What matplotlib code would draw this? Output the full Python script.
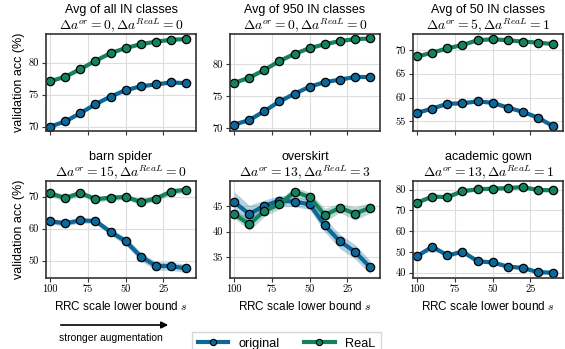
import numpy as np
import matplotlib
matplotlib.use("Agg")
from matplotlib import pyplot as plt

# RRC scale lower bound s (x axis, inverted)
scales = [100, 90, 80, 70, 60, 50, 40, 30, 20, 10]

titles = ["Avg of all IN classes", "Avg of 950 IN classes", "Avg of 50 IN classes",
          "barn spider", "overskirt", "academic gown"]
deltas = [(0, 0), (0, 0), (5, 1), (15, 0), (13, 3), (13, 1)]

orig_vals = [
    [70.0, 70.8, 72.1, 73.5, 74.7, 75.7, 76.3, 76.6, 76.9, 76.8],
    [70.6, 71.3, 72.7, 74.2, 75.4, 76.5, 77.2, 77.6, 78.0, 78.0],
    [56.8, 57.7, 58.7, 58.8, 59.2, 58.9, 57.9, 57.0, 55.8, 54.0],
    [62.3, 61.7, 62.6, 62.4, 59.0, 56.1, 51.3, 48.4, 48.3, 47.6],
    [45.7, 43.4, 45.0, 46.0, 45.8, 45.3, 41.2, 38.1, 36.1, 33.1],
    [48.0, 52.5, 48.3, 50.1, 45.5, 44.9, 42.9, 42.3, 40.2, 40.0],
]
real_vals = [
    [77.1, 77.8, 79.0, 80.3, 81.5, 82.3, 82.9, 83.3, 83.6, 83.7],
    [77.1, 77.9, 79.1, 80.5, 81.6, 82.5, 83.1, 83.6, 83.9, 84.0],
    [68.6, 69.4, 70.3, 71.0, 72.0, 72.2, 72.0, 71.7, 71.5, 71.2],
    [71.0, 69.6, 71.2, 69.2, 69.7, 69.9, 68.4, 69.4, 71.6, 72.2],
    [43.4, 41.4, 44.0, 45.3, 47.7, 46.7, 43.2, 44.6, 43.5, 44.6],
    [73.8, 76.7, 76.4, 79.3, 80.2, 80.5, 80.8, 81.3, 79.8, 79.8],
]
# spread (std) across runs
orig_std = [
    [0.15] * 10,
    [0.15] * 10,
    [0.25] * 10,
    [0.9, 0.9, 0.8, 0.8, 1.0, 1.2, 1.4, 1.3, 1.3, 1.3],
    [2.0, 1.7, 1.1, 1.0, 1.0, 1.0, 1.3, 1.4, 1.4, 1.3],
    [0.8, 0.8, 0.8, 0.8, 0.8, 0.8, 0.8, 0.8, 0.8, 0.8],
]
real_std = [
    [0.15] * 10,
    [0.15] * 10,
    [0.2] * 10,
    [1.0, 0.9, 0.9, 0.9, 0.8, 0.8, 0.9, 0.9, 0.9, 0.9],
    [0.8, 1.2, 1.1, 0.9, 0.9, 0.9, 1.3, 0.9, 1.3, 1.0],
    [0.8, 0.8, 0.8, 0.8, 0.8, 0.8, 0.8, 0.8, 0.8, 0.8],
]

ylims = [(69.3, 84.5), (69.6, 84.7), (53.0, 73.3), (44.6, 74.9), (31.0, 49.8), (37.4, 84.2)]
yticks = [[70, 75, 80], [70, 75, 80], [55, 60, 65, 70], [50, 60, 70], [35, 40, 45],
          [40, 50, 60, 70, 80]]

blue = "#0b6898"
green = "#148260"
sans = "Liberation Sans"

plt.rcParams["mathtext.fontset"] = "cm"
fig = plt.figure(figsize=(5.65, 3.49), dpi=100)
W, H = 565.0, 349.0

lefts = [46, 230, 413]
tops = [34, 181]
aw, ah = 150, 97

for i in range(6):
    r, c = divmod(i, 3)
    ax = fig.add_axes([lefts[c] / W, 1 - (tops[r] + ah) / H, aw / W, ah / H])
    x = np.array(scales)
    for vals, std, col in [(orig_vals[i], orig_std[i], blue), (real_vals[i], real_std[i], green)]:
        v = np.array(vals)
        s = np.array(std)
        ax.fill_between(x, v - s, v + s, color=col, alpha=0.3, lw=0)
        ax.plot(x, v, color=col, lw=3, marker="o", ms=6, mfc=col, mec="black", mew=0.9)
    ax.set_xlim(102.8, 3.4)
    ax.set_ylim(*ylims[i])
    ax.set_xticks([100, 75, 50, 25])
    ax.set_yticks(yticks[i])
    ax.grid(True, color="#dddddd", lw=0.8)
    ax.set_axisbelow(True)
    for sp in ax.spines.values():
        sp.set_color("#333333")
        sp.set_linewidth(1.2)
    ax.tick_params(length=3, width=0.8, color="#333333", labelsize=7.5, pad=2)
    for lab in ax.get_xticklabels() + ax.get_yticklabels():
        lab.set_fontfamily("cmr10")
    if r == 0:
        ax.set_xticklabels([])
    else:
        ax.set_xlabel("RRC scale lower bound $s$", fontsize=8.5, family=sans, labelpad=4)
    if c == 0:
        ax.set_ylabel("validation acc (%)", fontsize=9, family=sans, labelpad=3)
    a, b = deltas[i]
    ax.set_title(r"$\Delta a^{or} = %d, \Delta a^{ReaL} = %d$" % (a, b), fontsize=9.8, pad=2.5)
    ax.annotate(titles[i], xy=(0.5, 1), xycoords="axes fraction", xytext=(0, 24),
                textcoords="offset pixels", ha="center", va="center", fontsize=9, family=sans)

# arrow and caption
fig.patches.append(matplotlib.patches.FancyArrowPatch(
    (58 / W, 1 - 325 / H), (171 / W, 1 - 325 / H), transform=fig.transFigure,
    arrowstyle="-|>", mutation_scale=10, color="black", lw=1.2))
fig.text(111 / W, 1 - 338 / H, "stronger augmentation", ha="center", va="center",
         fontsize=7.5, family=sans)

handles = [plt.Line2D([], [], color=blue, lw=3, marker="o", ms=4.5, mfc=blue, mec="black", mew=0.8),
           plt.Line2D([], [], color=green, lw=3, marker="o", ms=4.5, mfc=green, mec="black", mew=0.8)]
fig.legend(handles, ["original", "ReaL"], loc="upper left",
           bbox_to_anchor=(192 / W, 1 - 332 / H), ncol=2,
           prop={"family": sans, "size": 9.2}, borderaxespad=0,
           frameon=True, fancybox=False, edgecolor="#cccccc", handlelength=2.4,
           columnspacing=1.9, borderpad=0.45, handletextpad=0.8)

fig.savefig("out.png", dpi=100)
